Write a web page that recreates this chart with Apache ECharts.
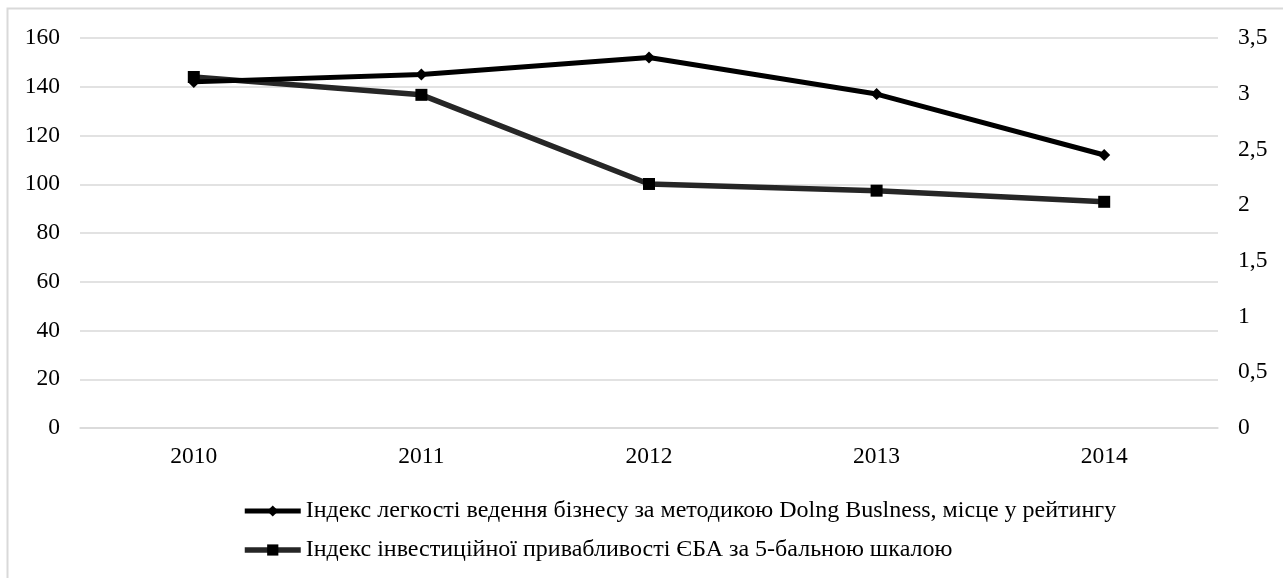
<!DOCTYPE html>
<html>
<head>
<meta charset="utf-8">
<script src="https://cdn.jsdelivr.net/npm/echarts@6/dist/echarts.min.js"></script>
<style>
html,body{margin:0;padding:0;background:#fff;}
#c{width:1283px;height:578px;}
</style>
</head>
<body>
<div id="c"></div>
<script>
const years = ['2010', '2011', '2012', '2013', '2014'];
const doingBusiness = [142, 145, 152, 137, 112];
const investIndex = [3.15, 2.99, 2.19, 2.13, 2.03];
const leftTicks = {min: 0, max: 160, interval: 20};
const rightTicks = {min: 0, max: 3.5, interval: 0.5};
const seriesNames = [
  'Індекс легкості ведення бізнесу за методикою Dolng Buslness, місце у рейтингу',
  'Індекс інвестиційної привабливості ЄБА за 5-бальною шкалою'
];

const FONT = 'Liberation Serif';
const chart = echarts.init(document.getElementById('c'));
chart.setOption({
  animation: false,
  backgroundColor: '#fff',
  textStyle: {fontFamily: FONT},
  graphic: [{
    type: 'rect', silent: true,
    shape: {x: 7.5, y: 8.5, width: 1300, height: 600},
    style: {fill: 'none', stroke: '#d9d9d9', lineWidth: 2}
  }],
  grid: {left: 80, right: 65, top: 38, bottom: 150},
  legend: {
    orient: 'vertical', left: 237, top: 494,
    itemWidth: 56, itemHeight: 14, itemGap: 15,
    textStyle: {fontFamily: FONT, fontSize: 24, color: '#000'},
    data: [
      {name: seriesNames[0], lineStyle: {width: 5, color: '#000'}},
      {name: seriesNames[1], lineStyle: {width: 5.5, color: '#262626'}}
    ]
  },
  xAxis: {
    type: 'category', data: years, boundaryGap: true,
    axisLine: {show: true, lineStyle: {color: '#d9d9d9', width: 1.5}},
    axisTick: {show: false},
    axisLabel: {fontFamily: FONT, fontSize: 23.5, color: '#000', margin: 17}
  },
  yAxis: [{
    type: 'value', min: leftTicks.min, max: leftTicks.max, interval: leftTicks.interval,
    axisLine: {show: false}, axisTick: {show: false},
    axisLabel: {fontFamily: FONT, fontSize: 23.5, color: '#000', margin: 20},
    splitLine: {lineStyle: {color: '#d9d9d9', width: 1.5}}
  }, {
    type: 'value', position: 'right', min: rightTicks.min, max: rightTicks.max, interval: rightTicks.interval,
    axisLine: {show: false}, axisTick: {show: false},
    axisLabel: {fontFamily: FONT, fontSize: 23.5, color: '#000', margin: 20,
      formatter: v => String(v).replace('.', ',')},
    splitLine: {show: false}
  }],
  series: [{
    name: seriesNames[0], type: 'line', yAxisIndex: 0, data: doingBusiness,
    symbol: 'diamond', symbolSize: 12,
    lineStyle: {color: '#000', width: 5},
    itemStyle: {color: '#000'},
    z: 3
  }, {
    name: seriesNames[1], type: 'line', yAxisIndex: 1, data: investIndex,
    symbol: 'rect', symbolSize: 12,
    lineStyle: {color: '#262626', width: 5.5},
    itemStyle: {color: '#000'},
    z: 2
  }]
});
</script>
</body>
</html>
